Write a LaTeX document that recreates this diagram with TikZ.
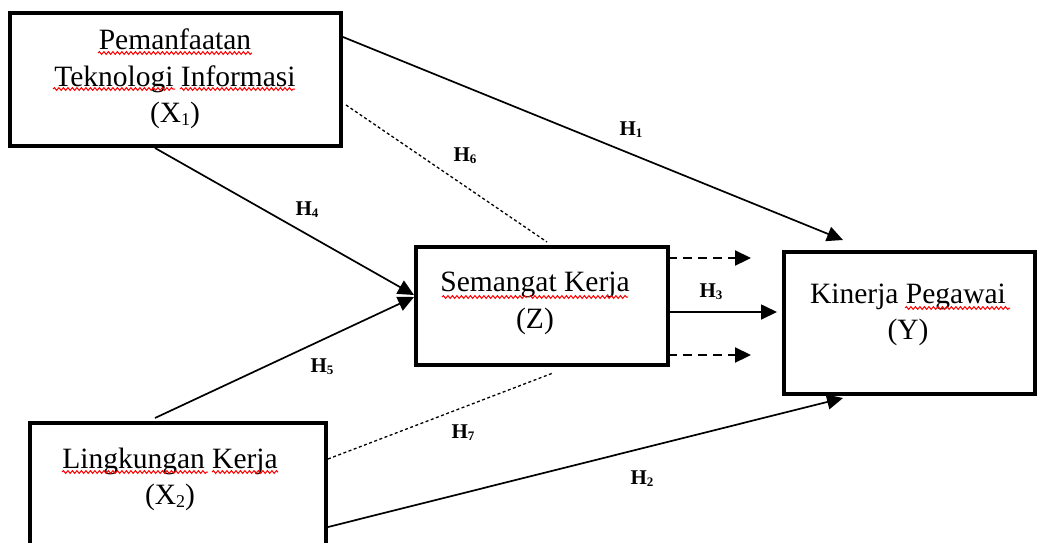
\documentclass[tikz,border=0pt]{standalone}
\usepackage{fontspec}
\setmainfont{Liberation Serif}
\usetikzlibrary{arrows.meta,decorations.pathmorphing}
\newcommand\subd[1]{\raisebox{-3pt}{\fontsize{18}{18}\selectfont #1}}
\newcommand\hlab[1]{\textbf{H\raisebox{-2pt}{\fontsize{13}{13}\selectfont #1}}}
\tikzset{
  box/.style={draw, line width=3.2pt, minimum width=#1, inner sep=0pt},
  txt/.style={align=center, font=\fontsize{29.5}{36.5}\selectfont, inner sep=0pt},
  hl/.style={font=\fontsize{21}{21}\selectfont\bfseries, inner sep=0pt},
  arr/.style={line width=1.7pt, -{Triangle[length=16pt,width=15pt]}},
  dsh/.style={line width=1.3pt, dash pattern=on 3pt off 2.5pt},
  darr/.style={line width=2.2pt, dash pattern=on 9pt off 6pt, -{Triangle[length=16pt,width=15pt]}},
  sq/.style={draw=red, line width=1pt, decorate, decoration={snake, segment length=4.5pt, amplitude=1.4pt}}
}
\begin{document}
\begin{tikzpicture}[x=1pt,y=-1pt]
\useasboundingbox (0,0) rectangle (1038,542);
\clip (0,0) rectangle (1038,542);
% boxes
\node[box=331pt, minimum height=133pt] (X1) at (175.5,79.5) {};
\node[box=252pt, minimum height=118pt] (Z) at (542,306) {};
\node[box=251pt, minimum height=142pt] (Y) at (909.5,323) {};
\node[box=296pt, minimum height=150pt] (X2) at (178,498) {};
% texts
\node[txt] (tX1) at (175,79) {Pemanfaatan\\Teknologi Informasi\\(X\subd{1})};
\node[txt] (tZ) at (535,303.5) {Semangat Kerja\\(Z)};
\node[txt] (tY) at (908,315) {Kinerja Pegawai\\(Y)};
\node[txt] (tX2) at (170,479.5) {Lingkungan Kerja\\(X\subd{2})};
% spell-check squiggles
\path[sq] (98,53) -- (252,53);
\path[sq] (53,89) -- (175,89);
\path[sq] (180,89) -- (295,89);
\path[sq] (442,297) -- (527,297);
\path[sq] (529,297) -- (628,297);
\path[sq] (62,472) -- (208,472);
\path[sq] (212,472) -- (278,472);
\path[sq] (905,308) -- (1010,308);
% coordinates
\coordinate (a1s) at (343,37);
\coordinate (a1e) at (843,240);
\coordinate (a6s) at (346,105);
\coordinate (a6e) at (547,242);
\coordinate (a4s) at (155,148);
\coordinate (a4e) at (414,295);
\coordinate (a5s) at (155,418);
\coordinate (a5e) at (414,297);
\coordinate (a3s) at (668,312);
\coordinate (a3e) at (777,312);
\coordinate (dus) at (668,258);
\coordinate (due) at (751,258);
\coordinate (dds) at (668,355);
\coordinate (dde) at (751,355);
\coordinate (a7s) at (328,459);
\coordinate (a7e) at (553,373);
\coordinate (a2s) at (328,527);
\coordinate (a2e) at (843,398);
% connectors
\draw[arr] (a1s) -- (a1e);
\draw[dsh] (a6s) -- (a6e);
\draw[arr] (a4s) -- (a4e);
\draw[arr] (a5s) -- (a5e);
\draw[arr] (a3s) -- (a3e);
\draw[darr] (dus) -- (due);
\draw[darr] (dds) -- (dde);
\draw[dsh] (a7s) -- (a7e);
\draw[arr] (a2s) -- (a2e);
% labels
\node[hl] (h1) at (631,130) {\hlab{1}};
\node[hl] (h6) at (465,156) {\hlab{6}};
\node[hl] (h4) at (307,210) {\hlab{4}};
\node[hl] (h3) at (711,292) {\hlab{3}};
\node[hl] (h5) at (322,367) {\hlab{5}};
\node[hl] (h7) at (463,433) {\hlab{7}};
\node[hl] (h2) at (642,479) {\hlab{2}};
\end{tikzpicture}
\end{document}
